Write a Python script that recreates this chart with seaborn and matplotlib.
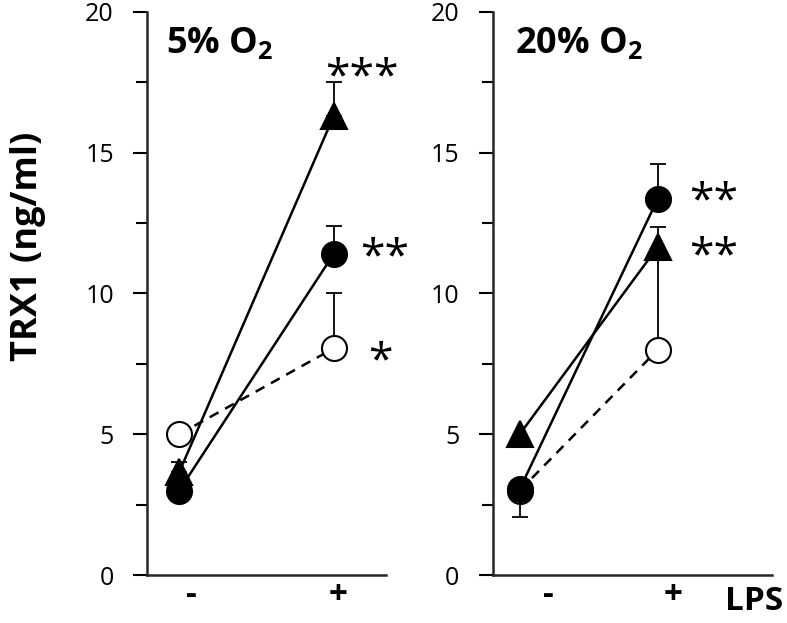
import numpy as np
import pandas as pd
import matplotlib
matplotlib.use("Agg")
import matplotlib.pyplot as plt
import seaborn as sns

# --- dados ---
lps = ["-", "+"]
xpos = [0, 1]

# 5% O2
o5_open = [5.0, 8.05]
o5_open_err = [0.0, 1.95]
o5_filled = [3.0, 11.4]
o5_filled_err = [0.0, 1.0]
o5_tri = [3.65, 16.3]
o5_tri_err = [0.35, 1.2]

# 20% O2
o20_open = [3.0, 8.0]
o20_open_err = [0.0, 4.35]
o20_filled = [3.05, 13.36]
o20_filled_err_lo = [1.0, 0.0]
o20_filled_err_hi = [0.0, 1.24]
o20_tri = [5.0, 11.65]

stars5 = ["***", "**", "*"]
stars5_y = [18.0, 11.6, 7.9]
stars5_x = [1.18, 1.17, 1.22]
stars20 = ["**", "**"]
stars20_y = [13.6, 11.65]

sns.set_style("ticks")
plt.rcParams["font.family"] = ["Open Sans", "DejaVu Sans"]
plt.rcParams["mathtext.fontset"] = "custom"
plt.rcParams["mathtext.rm"] = "Open Sans"
plt.rcParams["mathtext.bf"] = "Open Sans:bold"
plt.rcParams["text.color"] = "black"
plt.rcParams["xtick.color"] = "black"
plt.rcParams["ytick.color"] = "black"

fig = plt.figure(figsize=(7.87, 6.23), dpi=100)
ax1 = fig.add_axes([0.187, 0.077, 0.303, 0.904])
ax2 = fig.add_axes([0.626, 0.077, 0.355, 0.904])


def draw_series(ax, y, marker, face, ls, z, ms=18):
    df = pd.DataFrame({"x": xpos, "y": y})
    sns.lineplot(data=df, x="x", y="y", ax=ax, color="black", lw=1.8,
                 linestyle=ls, marker=marker, markersize=ms,
                 markerfacecolor=face, markeredgecolor="black",
                 markeredgewidth=1.5, zorder=z)


def err(ax, y, lo, hi):
    ax.errorbar(xpos, y, yerr=[lo, hi], fmt="none", ecolor="black",
                elinewidth=1.3, capsize=6, capthick=1.3, zorder=1)


# painel 5% O2
err(ax1, o5_open, [0, 0], o5_open_err)
err(ax1, o5_filled, [0, 0], o5_filled_err)
err(ax1, o5_tri, [0, 0], o5_tri_err)
draw_series(ax1, o5_open, "o", "white", (0, (4, 3)), 2)
draw_series(ax1, o5_filled, "o", "black", "-", 3)
draw_series(ax1, o5_tri, "^", "black", "-", 4, ms=19)

# painel 20% O2
err(ax2, o20_open, [0, 0], o20_open_err)
err(ax2, o20_filled, o20_filled_err_lo, o20_filled_err_hi)
draw_series(ax2, o20_open, "o", "white", (0, (4, 3)), 2)
draw_series(ax2, o20_tri, "^", "black", "-", 3, ms=19)
draw_series(ax2, o20_filled, "o", "black", "-", 4)

for ax, xl, xt in [(ax1, (-0.207, 1.336), [0.08, 1.03]),
                   (ax2, (-0.196, 1.828), [0.21, 1.11])]:
    ax.set_xlim(*xl)
    ax.set_ylim(0, 20)
    ax.set_yticks([0, 5, 10, 15, 20])
    ax.set_yticks([2.5, 7.5, 12.5, 17.5], minor=True)
    ax.set_xticks(xt)
    ax.set_xticklabels(lps, fontsize=24, fontweight="bold")
    ax.tick_params(axis="x", length=0, pad=3)
    ax.tick_params(axis="y", which="major", length=10, width=1.5,
                   labelsize=18, pad=14)
    ax.tick_params(axis="y", which="minor", length=8, width=1.5)
    ax.set_xlabel("")
    ax.set_ylabel("")
    sns.despine(ax=ax)
    for s in ["left", "bottom"]:
        ax.spines[s].set_linewidth(1.8)

ax1.text(0.08, 0.975, r"5% O$_\mathbf{2}$", transform=ax1.transAxes,
         fontsize=26, fontweight="bold", va="top", ha="left")
ax2.text(0.08, 0.975, r"20% O$_\mathbf{2}$", transform=ax2.transAxes,
         fontsize=26, fontweight="bold", va="top", ha="left")

# asteriscos de significância (o glifo fica alto na caixa, por isso o deslocamento)
for s, xx, yy in zip(stars5, stars5_x, stars5_y):
    ax1.text(xx, yy - 0.35, s, fontsize=32,
             ha="center" if s == "***" else "left", va="center")
for s, yy in zip(stars20, stars20_y):
    ax2.text(1.23, yy - 0.35, s, fontsize=32, ha="left", va="center")

fig.text(0.036, 0.605, "TRX1 (ng/ml)", rotation=90, fontsize=26,
         fontweight="bold", ha="center", va="center")
fig.text(0.958, 0.034, "LPS", fontsize=24, fontweight="bold",
         ha="center", va="center")

fig.savefig("out.png", dpi=100)
